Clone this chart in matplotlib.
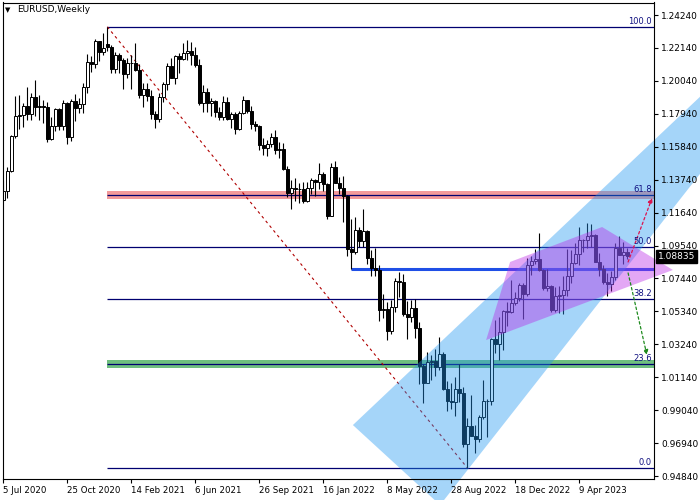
import matplotlib
matplotlib.use('Agg')
import matplotlib.pyplot as plt
from matplotlib.patches import Polygon, Rectangle
import matplotlib.transforms as mtransforms
import numpy as np

# ---------------- data (EURUSD weekly, bar 0 = week of 5 Jul 2020) ----------------
opens = [1.1245, 1.1300, 1.1428, 1.1655, 1.1778, 1.1788, 1.1842, 1.1794, 1.1903, 1.1838,
         1.1845, 1.1838, 1.1632, 1.1716, 1.1826, 1.1717, 1.1860, 1.1646, 1.1875, 1.1834,
         1.1855, 1.1963, 1.2122, 1.2111, 1.2256, 1.2187, 1.2240, 1.2219, 1.2081, 1.2170,
         1.2136, 1.2045, 1.2119, 1.2120, 1.2075, 1.1915, 1.1953, 1.1905, 1.1794, 1.1762,
         1.1900, 1.1982, 1.2097, 1.2020, 1.2164, 1.2146, 1.2180, 1.2193, 1.2168, 1.2108,
         1.1865, 1.1936, 1.1864, 1.1875, 1.1807, 1.1771, 1.1870, 1.1761, 1.1795, 1.1697,
         1.1796, 1.1880, 1.1812, 1.1726, 1.1719, 1.1595, 1.1573, 1.1600, 1.1645, 1.1560,
         1.1569, 1.1445, 1.1290, 1.1318, 1.1316, 1.1315, 1.1240, 1.1320, 1.1370, 1.1360,
         1.1410, 1.1345, 1.1145, 1.1455, 1.1350, 1.1320, 1.1270, 1.0930, 1.0910, 1.1050,
         1.0985, 1.1045, 1.0875, 1.0810, 1.0795, 1.0545, 1.0550, 1.0410, 1.0560, 1.0730,
         1.0720, 1.0520, 1.0495, 1.0555, 1.0430, 1.0185, 1.0080, 1.0210, 1.0220, 1.0180,
         1.0260, 1.0040, 0.9965, 0.9955, 1.0040, 1.0015, 0.9690, 0.9800, 0.9740, 0.9720,
         0.9860, 0.9965, 0.9960, 1.0355, 1.0325, 1.0400, 1.0535, 1.0530, 1.0585, 1.0620,
         1.0705, 1.0645, 1.0830, 1.0855, 1.0870, 1.0795, 1.0680, 1.0695, 1.0545, 1.0635,
         1.0640, 1.0670, 1.0760, 1.0840, 1.0900, 1.0990, 1.0990, 1.1015, 1.1020, 1.0850,
         1.0805, 1.0720, 1.0710, 1.0750, 1.0940, 1.0895, 1.0910]
highs = [1.1372, 1.1452, 1.1660, 1.1909, 1.1916, 1.1865, 1.1966, 1.1926, 1.2011, 1.1917,
         1.1882, 1.1872, 1.1771, 1.1832, 1.1830, 1.1880, 1.1870, 1.1891, 1.1920, 1.1892,
         1.1990, 1.2177, 1.2163, 1.2273, 1.2260, 1.2310, 1.2349, 1.2232, 1.2190, 1.2180,
         1.2150, 1.2150, 1.2169, 1.2243, 1.2113, 1.1990, 1.1989, 1.1945, 1.1815, 1.1927,
         1.1994, 1.2117, 1.2150, 1.2172, 1.2182, 1.2245, 1.2266, 1.2254, 1.2218, 1.2145,
         1.1975, 1.1960, 1.1895, 1.1880, 1.1837, 1.1909, 1.1900, 1.1804, 1.1804, 1.1810,
         1.1909, 1.1885, 1.1845, 1.1751, 1.1725, 1.1640, 1.1624, 1.1669, 1.1692, 1.1616,
         1.1609, 1.1464, 1.1374, 1.1383, 1.1355, 1.1360, 1.1360, 1.1386, 1.1376, 1.1482,
         1.1422, 1.1350, 1.1483, 1.1495, 1.1394, 1.1395, 1.1275, 1.1121, 1.1137, 1.1070,
         1.1185, 1.1054, 1.0923, 1.0936, 1.0830, 1.0642, 1.0594, 1.0607, 1.0748, 1.0786,
         1.0774, 1.0601, 1.0605, 1.0615, 1.0463, 1.0200, 1.0278, 1.0258, 1.0293, 1.0368,
         1.0277, 1.0090, 1.0079, 1.0113, 1.0198, 1.0051, 0.9854, 0.9999, 0.9809, 0.9873,
         1.0094, 0.9976, 1.0364, 1.0481, 1.0497, 1.0545, 1.0594, 1.0737, 1.0658, 1.0715,
         1.0713, 1.0874, 1.0887, 1.0929, 1.1033, 1.0806, 1.0804, 1.0705, 1.0692, 1.0694,
         1.0760, 1.0930, 1.0926, 1.0973, 1.1075, 1.0998, 1.1095, 1.1092, 1.1025, 1.0904,
         1.0830, 1.0780, 1.0790, 1.0971, 1.1012, 1.0976, 1.0935]
lows = [1.1240, 1.1255, 1.1424, 1.1640, 1.1696, 1.1711, 1.1753, 1.1752, 1.1782, 1.1753,
        1.1737, 1.1612, 1.1625, 1.1686, 1.1688, 1.1690, 1.1603, 1.1622, 1.1745, 1.1800,
        1.1800, 1.1925, 1.2059, 1.2089, 1.2130, 1.2170, 1.2195, 1.2055, 1.2054, 1.2057,
        1.1952, 1.2024, 1.1952, 1.2065, 1.1892, 1.1836, 1.1874, 1.1761, 1.1704, 1.1740,
        1.1867, 1.1944, 1.2020, 1.1986, 1.2051, 1.2140, 1.2134, 1.2104, 1.2093, 1.1847,
        1.1803, 1.1807, 1.1782, 1.1772, 1.1752, 1.1755, 1.1752, 1.1705, 1.1664, 1.1690,
        1.1794, 1.1802, 1.1700, 1.1684, 1.1563, 1.1529, 1.1524, 1.1580, 1.1535, 1.1514,
        1.1433, 1.1263, 1.1186, 1.1235, 1.1227, 1.1222, 1.1230, 1.1280, 1.1272, 1.1314,
        1.1300, 1.1121, 1.1142, 1.1374, 1.1280, 1.1106, 1.0886, 1.0806, 1.0900, 1.0945,
        1.0945, 1.0837, 1.0757, 1.0760, 1.0471, 1.0490, 1.0349, 1.0389, 1.0530, 1.0627,
        1.0507, 1.0359, 1.0469, 1.0366, 1.0072, 0.9952, 1.0075, 1.0096, 1.0123, 1.0160,
        1.0033, 0.9899, 0.9910, 0.9864, 0.9956, 0.9669, 0.9536, 0.9736, 0.9632, 0.9700,
        0.9848, 0.9730, 0.9935, 1.0271, 1.0223, 1.0290, 1.0443, 1.0525, 1.0575, 1.0597,
        1.0483, 1.0635, 1.0766, 1.0838, 1.0790, 1.0669, 1.0661, 1.0533, 1.0532, 1.0524,
        1.0516, 1.0635, 1.0714, 1.0838, 1.0830, 1.0910, 1.0941, 1.0942, 1.0850, 1.0760,
        1.0710, 1.0635, 1.0665, 1.0733, 1.0897, 1.0834, 1.0865]
closes = [1.1300, 1.1428, 1.1655, 1.1778, 1.1788, 1.1842, 1.1794, 1.1903, 1.1838, 1.1845,
          1.1838, 1.1632, 1.1716, 1.1826, 1.1717, 1.1860, 1.1646, 1.1875, 1.1834, 1.1855,
          1.1963, 1.2122, 1.2111, 1.2256, 1.2187, 1.2215, 1.2219, 1.2081, 1.2170, 1.2136,
          1.2045, 1.2119, 1.2120, 1.2075, 1.1915, 1.1953, 1.1905, 1.1794, 1.1762, 1.1900,
          1.1982, 1.2097, 1.2020, 1.2164, 1.2146, 1.2180, 1.2193, 1.2168, 1.2108, 1.1865,
          1.1936, 1.1864, 1.1875, 1.1807, 1.1771, 1.1870, 1.1761, 1.1795, 1.1697, 1.1796,
          1.1880, 1.1812, 1.1726, 1.1719, 1.1595, 1.1573, 1.1600, 1.1645, 1.1560, 1.1569,
          1.1445, 1.1290, 1.1318, 1.1316, 1.1315, 1.1240, 1.1320, 1.1370, 1.1360, 1.1410,
          1.1345, 1.1145, 1.1455, 1.1350, 1.1320, 1.1270, 1.0930, 1.0910, 1.1050, 1.0985,
          1.1045, 1.0875, 1.0810, 1.0795, 1.0545, 1.0550, 1.0410, 1.0560, 1.0730, 1.0720,
          1.0520, 1.0495, 1.0555, 1.0430, 1.0185, 1.0080, 1.0210, 1.0220, 1.0180, 1.0260,
          1.0040, 0.9965, 0.9955, 1.0040, 1.0015, 0.9690, 0.9800, 0.9740, 0.9720, 0.9860,
          0.9965, 0.9960, 1.0355, 1.0325, 1.0400, 1.0535, 1.0530, 1.0585, 1.0620, 1.0705,
          1.0645, 1.0830, 1.0855, 1.0870, 1.0795, 1.0680, 1.0695, 1.0545, 1.0635, 1.0640,
          1.0670, 1.0760, 1.0840, 1.0900, 1.0990, 1.0990, 1.1015, 1.1020, 1.0850, 1.0805,
          1.0720, 1.0710, 1.0750, 1.0940, 1.0895, 1.0910, 1.0884]

date_tick_bars = [0, 16, 32, 48, 64, 80, 96, 112, 128, 144]
date_tick_labels = ['5 Jul 2020', '25 Oct 2020', '14 Feb 2021', '6 Jun 2021', '26 Sep 2021',
                    '16 Jan 2022', '8 May 2022', '28 Aug 2022', '18 Dec 2022', '9 Apr 2023']
price_ticks = [0.94840, 0.96940, 0.99040, 1.01140, 1.03240, 1.05340, 1.07440, 1.09540,
               1.11640, 1.13740, 1.15840, 1.17940, 1.20040, 1.22140, 1.24240]
price_tick_labels = ['0.94840', '0.96940', '0.99040', '1.01140', '1.03240', '1.05340', '1.07440',
                     '1.09540', '1.11640', '1.13740', '1.15840', '1.17940', '1.20040', '1.22140',
                     '1.24240']
current_price = 1.08835

# Fibonacci retracement anchors (bar, price)
fib_high_bar, fib_high = 26, 1.2349
fib_low_bar, fib_low = 116, 0.9536
fib_levels = [0.0, 23.6, 38.2, 50.0, 61.8, 100.0]
fib_labels = ['0.0', '23.6', '38.2', '50.0', '61.8', '100.0']

# support line (bar, price)
support_bar, support_price = 87, 1.0806

# drawing objects (bar, price)
channel_bars = [87.4, 189.2, 189.2, 109.2]
channel_prices = [0.9809, 1.2265, 1.1899, 0.9299]
wedge_bars = [120.7, 126.7, 149.7, 167.4]
wedge_prices = [1.0351, 1.0849, 1.1072, 1.0798]
up_arrow = [(156.2, 1.0849), (162.2, 1.1257)]
down_arrow = [(156.2, 1.0779), (160.9, 1.0256)]

# ---------------- figure ----------------
W, H = 700, 500
fig = plt.figure(figsize=(W / 100, H / 100), dpi=100)
fig.patch.set_facecolor('white')
ax = fig.add_axes([2.7 / W, 21 / H, (654.3 - 2.7) / W, (479 - 2.5) / H])
ax.set_xlim(-0.15, 162.75)
ax.set_ylim(0.94649, 1.25038)
ax.set_axisbelow(False)

n = len(closes)
x = np.arange(n)
o = np.array(opens); h = np.array(highs); l = np.array(lows); c = np.array(closes)

XMAX = 162.75
fib_prices = [fib_low + p / 100.0 * (fib_high - fib_low) for p in fib_levels]

# bands at 61.8 and 23.6
band_half = 0.0025
red_lvl = fib_prices[fib_levels.index(61.8)]
green_lvl = fib_prices[fib_levels.index(23.6)]
ax.add_patch(Rectangle((fib_high_bar, red_lvl - band_half), XMAX - fib_high_bar, 2 * band_half,
                       facecolor='#f39a9a', edgecolor='none', zorder=1.0))
ax.add_patch(Rectangle((fib_high_bar, green_lvl - band_half), XMAX - fib_high_bar, 2 * band_half,
                       facecolor='#6fbf7f', edgecolor='none', zorder=1.0))

# fib lines
ax.hlines(fib_prices, fib_high_bar, XMAX, colors='#000070', linewidth=0.9, zorder=1.5)
for lvl, lab in zip(fib_prices, fib_labels):
    ax.text(162.2, lvl + 0.0008, lab, ha='right', va='bottom', fontsize=6, color='#101080', zorder=3)

# dashed trend line
ax.plot([fib_high_bar, fib_low_bar], [fib_high, fib_low], color='#b00000', linestyle=(0, (2.5, 3)),
        linewidth=0.8, zorder=1.7)

# support line
ax.hlines([support_price], support_bar, XMAX, colors='#1f4fe6', linewidth=2.2, zorder=1.6)

# candles
ax.vlines(x, l, h, colors='black', linewidth=0.8, zorder=2.0)
up = c >= o
bottom = np.minimum(o, c)
height = np.maximum(np.abs(c - o), 0.0002)
ax.bar(x, height, bottom=bottom, width=0.62,
       color=['white' if u else 'black' for u in up], edgecolor='black', linewidth=0.7, zorder=2.1)

# overlays
blue = Polygon(list(zip(channel_bars, channel_prices)), closed=True, facecolor='#2096f2',
               edgecolor='none', alpha=0.4, zorder=2.3, clip_on=False)
ax.add_patch(blue)
pink = Polygon(list(zip(wedge_bars, wedge_prices)), closed=True, facecolor='#b925e6',
               edgecolor='none', alpha=0.4, zorder=2.35, clip_on=False)
ax.add_patch(pink)

# arrows
ax.annotate('', xy=up_arrow[1], xytext=up_arrow[0],
            arrowprops=dict(arrowstyle='-|>', color='#dc1450', linestyle=(0, (2, 2)), lw=0.9,
                            mutation_scale=7, shrinkA=0, shrinkB=0), zorder=2.6, annotation_clip=False)
ax.annotate('', xy=down_arrow[1], xytext=down_arrow[0],
            arrowprops=dict(arrowstyle='-|>', color='#1e8a1e', linestyle=(0, (2, 2)), lw=0.9,
                            mutation_scale=7, shrinkA=0, shrinkB=0), zorder=2.6, annotation_clip=False)

# axes styling
for s in ax.spines.values():
    s.set_linewidth(0.8)
    s.set_color('black')
ax.yaxis.tick_right()
ax.set_yticks(price_ticks)
ax.set_yticklabels(price_tick_labels)
ax.set_xticks(date_tick_bars)
ax.set_xticklabels(date_tick_labels)
ax.tick_params(axis='y', direction='out', length=3, width=0.8, pad=2, labelsize=6.5, colors='black')
ax.tick_params(axis='x', direction='out', length=3, width=0.8, pad=2, labelsize=6.2, colors='black')
for t in ax.get_xticklabels():
    t.set_ha('left')

# current price label
blend = mtransforms.blended_transform_factory(ax.transAxes, ax.transData)
ax.annotate('1.08835', xy=(1.0, current_price), xycoords=blend, xytext=(2.5, 0),
            textcoords='offset points', ha='left', va='center', fontsize=6.5, color='white',
            bbox=dict(boxstyle='square,pad=0.2', fc='black', ec='black'), zorder=5,
            annotation_clip=False)

# title
fig.text(5 / W, 1 - 10 / H, '\u25BC', fontsize=5, ha='left', va='center', color='black')
fig.text(17 / W, 1 - 10 / H, 'EURUSD,Weekly', fontsize=6.5, ha='left', va='center', color='black')

fig.savefig('out.png', dpi=100, facecolor='white')
